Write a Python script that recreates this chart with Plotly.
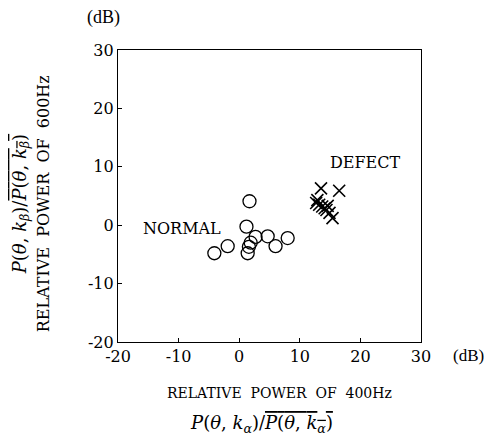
import plotly.graph_objects as go

normal_x = [1.7, 1.2, 2.7, 1.9, 1.6, 1.4, 4.7, 6.0, 8.0, -1.9, -4.1]
normal_y = [4.1, -0.25, -2.0, -3.0, -3.7, -4.8, -1.9, -3.6, -2.2, -3.6, -4.8]
defect_x = [13.5, 16.5, 12.7, 13.2, 13.7, 14.1, 14.4, 14.9, 15.4, 12.9, 14.6]
defect_y = [6.3, 5.9, 3.8, 3.5, 3.2, 2.9, 2.6, 2.1, 1.2, 4.3, 3.3]
tick_vals = [-20, -10, 0, 10, 20, 30]
tick_text = ["-20", "-10", "0", "10", "20", "30"]

FONT = "DejaVu Serif"
FONT2 = "Liberation Serif"
fig = go.Figure()
fig.add_trace(go.Scatter(x=normal_x, y=normal_y, mode="markers",
                         marker=dict(symbol="circle-open", size=13, color="black", line=dict(width=1.3)),
                         showlegend=False))
fig.add_trace(go.Scatter(x=defect_x, y=defect_y, mode="markers",
                         marker=dict(symbol="x-thin-open", size=12, color="black", line=dict(width=1.6, color="black")),
                         showlegend=False))

axis_common = dict(range=[-20, 30], tickvals=tick_vals, ticktext=tick_text, showgrid=False, zeroline=False,
                   showline=True, linecolor="black", linewidth=1.2, mirror=True,
                   ticks="inside", ticklen=4, tickcolor="black",
                   tickfont=dict(family=FONT, size=16, color="black"))
fig.update_xaxes(**axis_common)
fig.update_yaxes(**axis_common)

ann = [
    dict(x=-0.11, y=1.11, text="(dB)", xref="paper", yref="paper", showarrow=False,
         font=dict(family=FONT2, size=18), xanchor="left", yanchor="middle"),
    dict(x=1.098, y=-0.045, text="(dB)", xref="paper", yref="paper", showarrow=False,
         font=dict(family=FONT2, size=17), xanchor="left", yanchor="middle"),
    dict(x=0.533, y=-0.175, text="RELATIVE  POWER  OF  400Hz", xref="paper", yref="paper", showarrow=False,
         font=dict(family=FONT, size=14), yanchor="middle"),
    dict(x=0.474, y=-0.28,
         text="<i>P</i>(<i>θ</i>, <i>k</i><sub><i>α</i></sub>)/<span style='text-decoration:overline'><i>P</i>(<i>θ</i>, <i>k</i><sub><i>α</i></sub>)</span>",
         xref="paper", yref="paper", showarrow=False, font=dict(family=FONT, size=18), yanchor="middle"),
    dict(x=-0.243, y=0.473, text="RELATIVE  POWER  OF  600Hz", xref="paper", yref="paper", showarrow=False,
         font=dict(family=FONT, size=16), textangle=-90, xanchor="center", yanchor="middle"),
    dict(x=-0.322, y=0.473,
         text="<i>P</i>(<i>θ</i>, <i>k</i><sub><i>β</i></sub>)/<span style='text-decoration:overline'><i>P</i>(<i>θ</i>, <i>k</i><sub><i>β</i></sub>)</span>",
         xref="paper", yref="paper", showarrow=False, font=dict(family=FONT, size=18), textangle=-90,
         xanchor="center", yanchor="middle"),
    dict(x=-9.44, y=-0.48, text="NORMAL", xref="x", yref="y", showarrow=False,
         font=dict(family=FONT, size=16), xanchor="center", yanchor="middle"),
    dict(x=20.8, y=10.8, text="DEFECT", xref="x", yref="y", showarrow=False,
         font=dict(family=FONT, size=16), xanchor="center", yanchor="middle"),
]
fig.update_layout(width=476, height=429, margin=dict(l=110, r=63, t=42, b=95),
                  plot_bgcolor="white", paper_bgcolor="white", annotations=ann,
                  font=dict(family=FONT, color="black"))
fig.write_html("out.html")
